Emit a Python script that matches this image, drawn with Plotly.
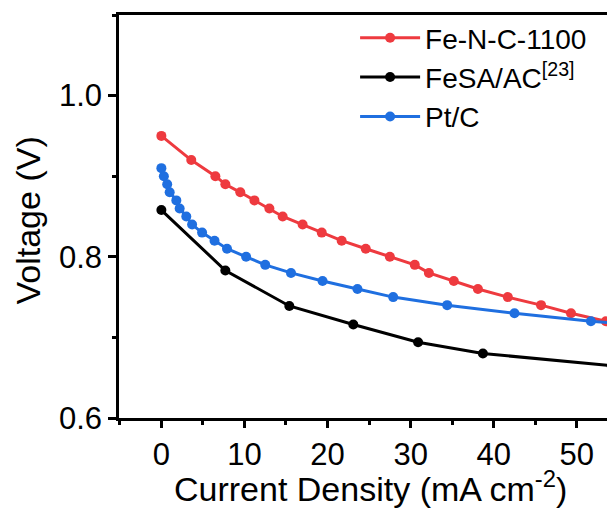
import plotly.graph_objects as go

# Fe-N-C-1100
fenc_x = [0, 3.6, 6.5, 7.7, 9.5, 11.2, 13.0, 14.6, 17.0, 19.3, 21.7, 24.6,
          27.5, 30.5, 32.2, 35.2, 38.1, 41.7, 45.7, 49.3, 53.5]
fenc_y = [0.95, 0.92, 0.90, 0.89, 0.88, 0.87, 0.86, 0.85, 0.84, 0.83, 0.82, 0.81,
          0.80, 0.79, 0.78, 0.77, 0.76, 0.75, 0.74, 0.73, 0.72]

# FeSA/AC [23]
fesa_x = [0, 7.7, 15.4, 23.1, 30.9, 38.7, 54.2]
fesa_y = [0.858, 0.783, 0.739, 0.716, 0.694, 0.680, 0.665]

# Pt/C
ptc_x = [0, 0.3, 0.7, 1.0, 1.8, 2.2, 3.0, 3.7, 4.9, 6.4, 7.9, 10.2, 12.5, 15.6,
         19.4, 23.6, 27.9, 34.4, 42.5, 51.7, 57.0]
ptc_y = [0.91, 0.90, 0.89, 0.88, 0.87, 0.86, 0.85, 0.84, 0.83, 0.82, 0.81, 0.80,
         0.79, 0.78, 0.77, 0.76, 0.75, 0.74, 0.73, 0.72, 0.716]

x_ticks = [0, 10, 20, 30, 40, 50]
y_ticks = [0.6, 0.8, 1.0]

FONT = "Arial"

fig = go.Figure()

def add(x, y, name, color):
    fig.add_trace(go.Scatter(
        x=x, y=y, name=name, mode="lines+markers",
        line=dict(color=color, width=3),
        marker=dict(color=color, size=10, line=dict(color=color, width=0)),
    ))

add(fenc_x, fenc_y, "Fe-N-C-1100", "#ee3a3f")
add(fesa_x, fesa_y, "FeSA/AC<sup>[23]</sup>", "#000000")
add(ptc_x, ptc_y, "Pt/C", "#1f6fe0")

# page body adds an 8px offset, margins compensate for it
fig.update_layout(
    width=615, height=510,
    margin=dict(l=111, r=8, t=7, b=100, autoexpand=False),
    plot_bgcolor="white", paper_bgcolor="white",
    font=dict(family=FONT, color="black", size=31),
    legend=dict(x=0.476, y=1.005, xanchor="left", yanchor="top",
                font=dict(size=28), bgcolor="rgba(0,0,0,0)",
                itemwidth=60, tracegroupgap=0),
    showlegend=True,
)

# axis titles as annotations so they sit where the reference has them
fig.add_annotation(text="Current Density (mA cm<sup>-2</sup>)", xref="paper", yref="paper",
                   x=0.507, y=0, yshift=-68, xanchor="center", yanchor="middle",
                   showarrow=False, font=dict(size=34))
fig.add_annotation(text="Voltage (V)", xref="paper", yref="paper", textangle=-90,
                   x=0, y=0.5, xshift=-92, yshift=-4, xanchor="center", yanchor="middle",
                   showarrow=False, font=dict(size=34))

fig.update_xaxes(
    range=[-5.1, 54.6], tickvals=x_ticks, automargin=False,
    showgrid=False, zeroline=False,
    showline=True, linecolor="black", linewidth=2.5, mirror=True,
    ticks="outside", ticklen=7, tickwidth=2.5, tickcolor="black",
    minor=dict(dtick=5, tick0=0, ticks="outside", ticklen=4, tickwidth=2.5, tickcolor="black"),
    tickfont=dict(size=31),
)
fig.update_yaxes(
    range=[0.6, 1.1], tickvals=y_ticks, tickformat=".1f", automargin=False,
    showgrid=False, zeroline=False,
    showline=True, linecolor="black", linewidth=2.5,
    ticks="outside", ticklen=8, tickwidth=2.5, tickcolor="black",
    minor=dict(dtick=0.1, tick0=0.6, ticks="outside", ticklen=4, tickwidth=2.5, tickcolor="black"),
    tickfont=dict(size=31),
)

fig.write_html("out.html")
